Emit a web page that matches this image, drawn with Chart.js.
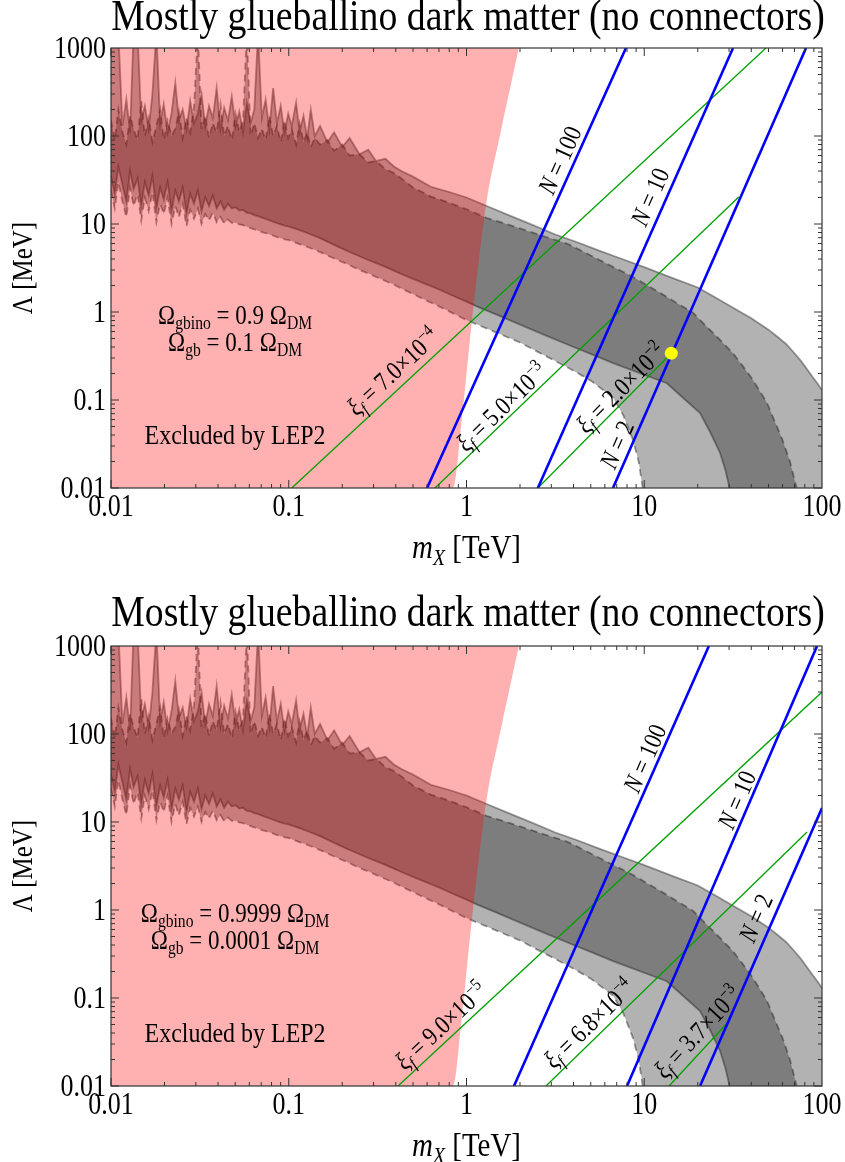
<!DOCTYPE html>
<html>
<head>
<meta charset="utf-8">
<script src="https://cdn.jsdelivr.net/npm/chart.js@4/dist/chart.umd.min.js"></script>
<style>
body { margin: 0; background: #fff; }
canvas { display: block; }
</style>
</head>
<body>
<canvas id="topChart" width="845" height="581"></canvas>
<canvas id="bottomChart" width="845" height="581"></canvas>
<script>
// axes
const xRange = [0.01, 100];
const yRange = [0.01, 1000];
const xTickLabels = ['0.01', '0.1', '1', '10', '100'];
const yTickLabels = ['0.01', '0.1', '1', '10', '100', '1000'];

// band edges, m_X in TeV, Lambda in MeV (noisy part at low mass)
const lowMass = [0.0100,0.0105,0.0110,0.0116,0.0122,0.0128,0.0134,0.0141,0.0148,0.0155,0.0163,0.0171,0.0180,0.0189,0.0198,0.0208,0.0219,0.0230,0.0241,0.0253,0.0266,0.0279,0.0293,0.0308,0.0323,0.0339,0.0356,0.0374,0.0393,0.0413,0.0433,0.0455,0.0478,0.0502,0.0527,0.0553,0.0581,0.0610,0.0640,0.0672,0.0706,0.0741,0.0778,0.0817,0.0858,0.0901,0.0946,0.0993,0.104,0.110,0.115,0.121,0.127,0.133,0.140,0.150,0.165,0.180,0.20,0.22,0.25,0.28,0.31,0.35,0.39,0.43];
const upperSolidLow = [1500,1500,1500,130,260,110,1500,1500,150,220,120,300,1500,140,230,110,180,400,150,200,120,250,140,180,300,130,220,160,350,120,210,150,280,130,190,110,240,140,200,1500,160,260,120,350,140,220,110,180,130,240,110,170,95,200,100,130,85,110,75,95,62,70,52,55,45,40];
const upperDashLow = [150,90,200,110,80,170,120,90,250,100,160,85,130,200,90,150,100,120,190,95,160,110,210,1500,120,170,95,140,110,230,100,130,90,180,110,150,1500,100,140,95,120,90,170,100,130,85,150,95,120,80,140,85,110,75,95,80,90,68,80,60,62,50,52,42,38,33];
const lowerSolidLow = [35,22,45,28,18,40,25,33,16,30,21,35,15,26,19,30,14,24,18,26,13,22,17,24,14,20,16,21,15,18,14.5,17,15,15.5,14.2,14.5,13.4,13.2,12.6,12.3,11.8,11.4,11.0,10.6,10.2,9.9,9.6,9.4,9.1,8.8,8.5,8.2,7.9,7.6,7.3,6.9,6.3,5.8,5.25,4.8,4.3,3.9,3.6,3.25,2.95,2.7];
const lowerDashLow = [24,15,30,18,12,26,16,22,11,20,14,23,10.5,17,13,20,10,16,12,17,9.5,14.5,11.5,15,10,13,11,13.5,10.5,12,10.2,11.2,10.3,10.3,9.9,9.7,9.3,9.0,8.7,8.4,8.1,7.9,7.6,7.4,7.1,6.9,6.7,6.6,6.35,6.1,5.9,5.7,5.5,5.3,5.1,4.8,4.4,4.05,3.7,3.4,3.0,2.75,2.5,2.25,2.05,1.85];

const upperSolidMass = [0.5,0.63,0.8,1.0,1.33,1.78,2.37,3.16,4.2,5.62,7.5,10,14.1,20,25,31.6,40,50,57,63,70,75.9,82,89,95,100];
const upperSolidLam = [34.5,26.5,23.1,20,15.7,12.3,9.7,7.6,6.2,4.95,4.0,3.24,2.48,1.9,1.47,1.12,0.85,0.63,0.51,0.43,0.34,0.28,0.226,0.18,0.151,0.13];
const upperDashMass = [0.5,0.63,0.8,1.0,1.3,1.6,2.0,2.7,3.67,4.5,5.6,7,8.65,10.3,12,15,18.8,22,25,28,31.6,35.5,40,44.5,49,54,60,66,72,74,100];
const upperDashLam = [26,20.5,17.4,14.7,11.7,10.3,8.9,7.3,6.0,4.9,3.9,3.1,2.5,2.03,1.7,1.29,0.98,0.71,0.55,0.436,0.34,0.249,0.18,0.128,0.093,0.058,0.035,0.02,0.01,0.001,0.001];
const lowerSolidMass = [0.5,0.6,0.7,0.85,1.0,1.15,1.5,2.0,2.8,4.0,5.2,6.67,8.5,10.5,13.4,16.5,20.6,23.5,26.7,28.6,30.2,32,100];
const lowerSolidLam = [2.38,2.05,1.8,1.51,1.31,1.15,0.92,0.72,0.54,0.40,0.323,0.263,0.219,0.186,0.155,0.106,0.071,0.043,0.025,0.016,0.01,0.001,0.001];
const lowerDashMass = [0.5,0.6,0.7,0.85,1.0,1.4,2.0,2.8,3.67,4.3,5.0,5.8,6.67,7.6,8.2,8.65,9.3,9.8,10.5,100];
const lowerDashLam = [1.6,1.34,1.16,0.953,0.81,0.61,0.45,0.315,0.237,0.198,0.166,0.132,0.107,0.068,0.046,0.035,0.02,0.01,0.001,0.001];

// LEP2 exclusion edge
const lepMass = [0.01,0.84,0.944,1.074,1.3,1.54,1.97];
const lepLam = [0.01,0.01,0.065,0.81,18.6,100,1000];

// top panel: Omega_gb = 0.1
const topNames = ['100', '10', '2'];
const topNMass = [[0.600, 7.89], [2.52, 31.6], [6.67, 81.3]];
const topNLam = [[0.01, 1000], [0.01, 1000], [0.01, 1000]];
const topXi = [['7.0', '−4'], ['5.0', '−3'], ['2.0', '−2']];
const topXiMass = [[0.104, 48.4], [0.665, 34], [2.52, 14.2]];
const topXiLam = [[0.01, 1000], [0.01, 20.3], [0.01, 0.34]];
const benchMass = [14.2];
const benchLam = [0.34];

// bottom panel: Omega_gb = 0.0001
const botNames = ['100', '10', '2'];
const botNMass = [[1.85, 23.1], [8.0, 93.8], [20.6, 100]];
const botNLam = [[0.01, 1000], [0.01, 1000], [0.01, 14.4]];
const botXi = [['9.0', '−5'], ['6.8', '−4'], ['3.7', '−3']];
const botXiMass = [[0.412, 100], [2.80, 82.4], [13.8, 29.6]];
const botXiLam = [[0.01, 300], [0.01, 7.7], [0.01, 0.053]];

const serif = '"Liberation Serif", "DejaVu Serif", serif';
const titleText = 'Mostly glueballino dark matter (no connectors)';
const squeeze = 0.85; // the reference type is narrow and tall

const pts = (ms, ls) => ms.map((m, i) => ({x: m, y: ls[i]}));

font = (size, it) => (it ? 'italic ' : '') + size.toFixed(1) + 'px ' + serif;
isSmall = s => s === 'b' || s === 'bi' || s === 'p';

// size is given in "width" terms, glyphs are drawn taller and squeezed
richWidth = (ctx, parts, size) => {
    const S = size / squeeze;
    let w = 0;
    parts.forEach(([t, s]) => {
        ctx.font = font(isSmall(s) ? S * 0.68 : S, s === 'i' || s === 'bi');
        w += ctx.measureText(t).width;
    });
    return w * squeeze;
}

drawRich = (ctx, parts, x, y, size, align) => {
    const S = size / squeeze;
    const w = richWidth(ctx, parts, size);
    const x0 = align === 'right' ? x - w : align === 'left' ? x : x - w / 2;
    ctx.save();
    ctx.translate(x0, y);
    ctx.scale(squeeze, 1);
    ctx.textAlign = 'left';
    ctx.textBaseline = 'alphabetic';
    let cx = 0;
    parts.forEach(([t, s]) => {
        ctx.font = font(isSmall(s) ? S * 0.68 : S, s === 'i' || s === 'bi');
        const dy = (s === 'b' || s === 'bi') ? S * 0.2 : s === 'p' ? -S * 0.38 : 0;
        ctx.fillText(t, cx, dy);
        cx += ctx.measureText(t).width;
    });
    ctx.restore();
}

makeChart = (id, p) => {
    const edge = (ms, ls, dash, fillTo) => ({
        data: pts(ms, ls),
        borderColor: 'rgba(40,40,40,0.45)',
        borderWidth: 1.8,
        borderDash: dash,
        backgroundColor: 'rgba(0,0,0,0.3)',
        fill: fillTo,
        pointRadius: 0,
        tension: 0,
        clip: 0,
        order: 10
    });
    const straight = (ms, ls, color, width, order) => ({
        data: pts(ms, ls),
        borderColor: color,
        borderWidth: width,
        pointRadius: 0,
        fill: false,
        tension: 0,
        clip: 0,
        order: order
    });

    const datasets = [
        edge(lowMass.concat(upperSolidMass), upperSolidLow.concat(upperSolidLam), [], 1),
        edge(lowMass.concat(lowerSolidMass), lowerSolidLow.concat(lowerSolidLam), [], false),
        edge(lowMass.concat(upperDashMass), upperDashLow.concat(upperDashLam), [7, 5], 3),
        edge(lowMass.concat(lowerDashMass), lowerDashLow.concat(lowerDashLam), [7, 5], false),
        {
            data: pts(lepMass, lepLam),
            borderColor: 'rgba(0,0,0,0)',
            borderWidth: 1,
            backgroundColor: 'rgba(255,0,0,0.31)',
            fill: 'end',
            pointRadius: 0,
            cubicInterpolationMode: 'monotone',
            clip: 0,
            order: 5
        }
    ];
    p.xiMass.forEach((m, i) => datasets.push(straight(m, p.xiLam[i], '#00a000', 1.3, 3)));
    p.nMass.forEach((m, i) => datasets.push(straight(m, p.nLam[i], '#0000ff', 2.6, 2)));
    if (p.bench) {
        datasets.push({
            data: pts(p.bench[0], p.bench[1]),
            showLine: false,
            pointRadius: 6.5,
            pointBackgroundColor: '#ffff00',
            pointBorderWidth: 0,
            clip: 0,
            order: 1
        });
    }

    const decor = {
        id: 'decor',
        afterDatasetsDraw(chart) {
            const {ctx, chartArea: a, scales: {x, y}} = chart;
            const px = v => x.getPixelForValue(v);
            const py = v => y.getPixelForValue(v);
            ctx.save();
            ctx.fillStyle = '#000';

            // text notes
            p.notes.forEach(n => drawRich(ctx, n.parts, px(n.at[0]), py(n.at[1]) + n.size * 0.38, n.size));

            // labels along the lines
            p.tags.forEach(t => {
                const d = chart.data.datasets[t.ds].data;
                const ang = Math.atan2(py(d[1].y) - py(d[0].y), px(d[1].x) - px(d[0].x));
                ctx.save();
                ctx.translate(px(t.at[0]), py(t.at[1]));
                ctx.rotate(ang);
                drawRich(ctx, t.parts, 0, t.size * 0.38, t.size);
                ctx.restore();
            });

            // frame and inward ticks
            ctx.strokeStyle = '#333';
            ctx.lineWidth = 1.2;
            ctx.strokeRect(a.left, a.top, a.right - a.left, a.bottom - a.top);
            ctx.lineWidth = 1;
            ctx.beginPath();
            for (let k = -2; k < 2; k++) {
                for (let j = 1; j < 10; j++) {
                    const v = j * Math.pow(10, k);
                    const len = j === 1 ? 8 : 4;
                    ctx.moveTo(px(v), a.bottom); ctx.lineTo(px(v), a.bottom - len);
                    ctx.moveTo(px(v), a.top); ctx.lineTo(px(v), a.top + len);
                }
            }
            for (let k = -2; k < 3; k++) {
                for (let j = 1; j < 10; j++) {
                    const v = j * Math.pow(10, k);
                    const len = j === 1 ? 8 : 4;
                    ctx.moveTo(a.left, py(v)); ctx.lineTo(a.left + len, py(v));
                    ctx.moveTo(a.right, py(v)); ctx.lineTo(a.right - len, py(v));
                }
            }
            ctx.stroke();

            // tick labels
            const ts = 26;
            xTickLabels.forEach(l => drawRich(ctx, [[l, 'n']], px(+l), a.bottom + 28, ts));
            yTickLabels.forEach(l => drawRich(ctx, [[l, 'n']], a.left - 5, py(+l) + ts * 0.4, ts, 'right'));

            // axis titles
            drawRich(ctx, [['m', 'i'], ['X', 'bi'], [' [TeV]', 'n']], (a.left + a.right) / 2, a.bottom + 70, 29);
            ctx.save();
            ctx.translate(32, (a.top + a.bottom) / 2);
            ctx.rotate(-Math.PI / 2);
            drawRich(ctx, [['Λ [MeV]', 'n']], 0, 0, 25);
            ctx.restore();

            // chart title, fitted to the plot width
            const tw = richWidth(ctx, [[titleText, 'n']], 100);
            drawRich(ctx, [[titleText, 'n']], 468, p.titleY, 100 * 713 / tw);
            ctx.restore();
        }
    };

    return new Chart(document.getElementById(id), {
        type: 'line',
        data: {datasets: datasets},
        options: {
            responsive: false,
            animation: false,
            events: [],
            layout: {padding: {left: 111, right: 23, top: p.top, bottom: 581 - p.top - 440}},
            scales: {
                x: {
                    type: 'logarithmic', min: xRange[0], max: xRange[1],
                    grid: {display: false}, border: {display: false}, ticks: {display: false},
                    afterFit: s => { s.height = 0; }
                },
                y: {
                    type: 'logarithmic', min: yRange[0], max: yRange[1],
                    grid: {display: false}, border: {display: false}, ticks: {display: false},
                    afterFit: s => { s.width = 0; }
                }
            },
            plugins: {legend: {display: false}, tooltip: {enabled: false}, title: {display: false}}
        },
        plugins: [decor]
    });
}

const xiParts = (a, e) => [['ξ', 'i'], ['f', 'bi'], [' = ' + a + '×10', 'n'], [e, 'p']];
const nParts = n => [['N', 'i'], [' = ' + n, 'n']];
const notes = (gbino, gb) => [
    {parts: [['Ω', 'n'], ['gbino', 'b'], [' = ' + gbino + ' Ω', 'n'], ['DM', 'b']], at: [0.0499, 0.925], size: 23},
    {parts: [['Ω', 'n'], ['gb', 'b'], [' = ' + gb + ' Ω', 'n'], ['DM', 'b']], at: [0.0499, 0.456], size: 23},
    {parts: [['Excluded by LEP2', 'n']], at: [0.0499, 0.04], size: 24}
];

makeChart('topChart', {
    top: 48, titleY: 30,
    nMass: topNMass, nLam: topNLam, xiMass: topXiMass, xiLam: topXiLam,
    bench: [benchMass, benchLam],
    notes: notes('0.9', '0.1'),
    tags: [
        {ds: 8, parts: nParts(topNames[0]), at: [3.36, 53], size: 22},
        {ds: 9, parts: nParts(topNames[1]), at: [10.8, 20.3], size: 22},
        {ds: 10, parts: nParts(topNames[2]), at: [7.03, 0.031], size: 22},
        {ds: 5, parts: xiParts(topXi[0][0], topXi[0][1]), at: [0.386, 0.209], size: 22},
        {ds: 6, parts: xiParts(topXi[1][0], topXi[1][1]), at: [1.58, 0.083], size: 22},
        {ds: 7, parts: xiParts(topXi[2][0], topXi[2][1]), at: [7.4, 0.137], size: 22}
    ]
});

makeChart('bottomChart', {
    top: 65, titleY: 45,
    nMass: botNMass, nLam: botNLam, xiMass: botXiMass, xiLam: botXiLam,
    notes: notes('0.9999', '0.0001'),
    tags: [
        {ds: 8, parts: nParts(botNames[0]), at: [10.1, 53], size: 22},
        {ds: 9, parts: nParts(botNames[1]), at: [33.3, 17.8], size: 22},
        {ds: 10, parts: nParts(botNames[2]), at: [42.5, 0.81], size: 22},
        {ds: 5, parts: xiParts(botXi[0][0], botXi[0][1]), at: [0.72, 0.048], size: 22},
        {ds: 6, parts: xiParts(botXi[1][0], botXi[1][1]), at: [4.89, 0.051], size: 22},
        {ds: 7, parts: xiParts(botXi[2][0], botXi[2][1]), at: [20.0, 0.041], size: 22}
    ]
});
</script>
</body>
</html>
